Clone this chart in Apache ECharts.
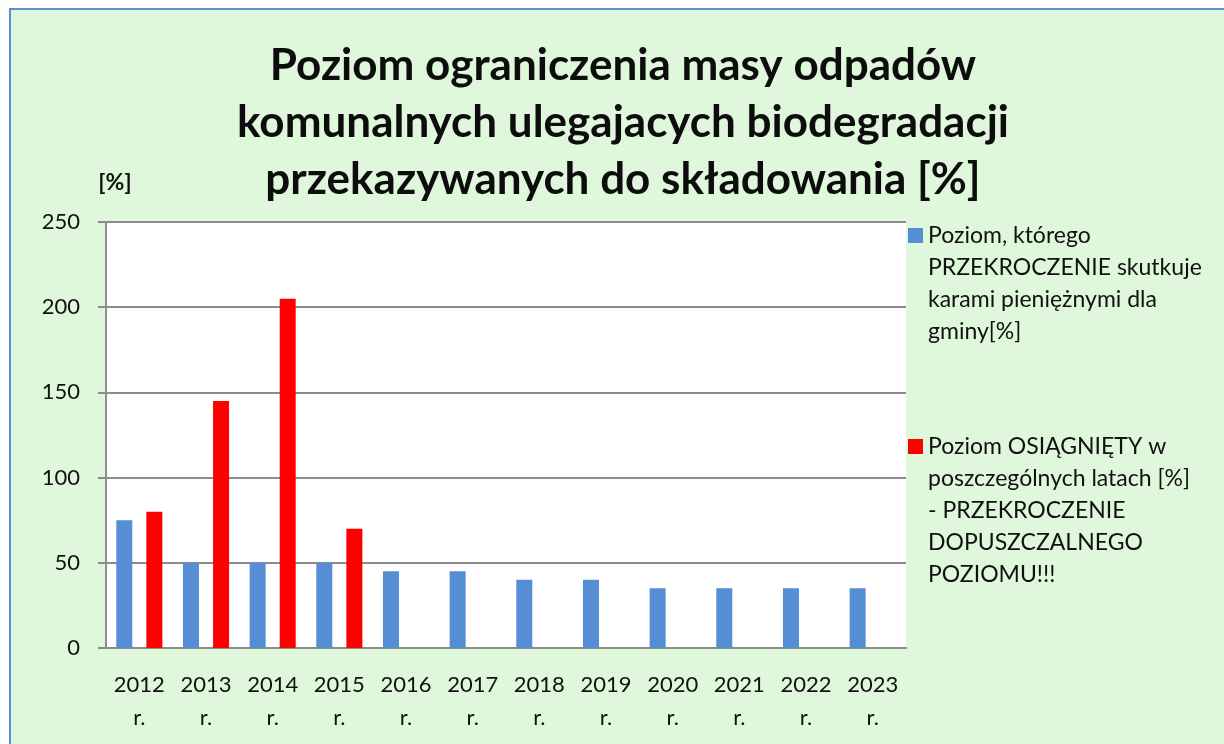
<!DOCTYPE html>
<html lang="pl">

<head>
	<meta charset="UTF-8" />
	<title>Poziom ograniczenia masy odpadów</title>
	<script src="https://cdn.jsdelivr.net/npm/echarts@6/dist/echarts.min.js"></script>
	<style type="text/css">
		html,
		body {
			margin: 0;
			padding: 0;
			background-color: #ffffff;
		}

		#chart {
			width: 1224px;
			height: 744px;
		}
	</style>
</head>

<body>
	<div id="chart"></div>

	<script>
		//--------------------------- 資料 ---------------------------//

		const years = ['2012\nr.', '2013\nr.', '2014\nr.', '2015\nr.', '2016\nr.', '2017\nr.',
			'2018\nr.', '2019\nr.', '2020\nr.', '2021\nr.', '2022\nr.', '2023\nr.'];

		// Poziom, którego przekroczenie skutkuje karami
		const limitValues = [75, 50, 50, 50, 45, 45, 40, 40, 35, 35, 35, 35];

		// Poziom osiągnięty (dane tylko dla 2012-2015)
		const achievedValues = [80, 145, 205, 70, null, null, null, null, null, null, null, null];

		const limitName = 'Poziom, którego\nPRZEKROCZENIE skutkuje\nkarami pieniężnymi dla\ngminy[%]';
		const achievedName = 'Poziom OSIĄGNIĘTY w\nposzczególnych latach [%]\n- PRZEKROCZENIE\nDOPUSZCZALNEGO\nPOZIOMU!!!';

		//--------------------------- 圖表 ---------------------------//

		const font = 'Lato, "Open Sans", sans-serif';
		const lineH = 32;

		// tekst legendy zaczyna się na wysokości kwadratu: puste linie przed nazwą
		function legendText(name) {
			const n = name.split('\n').length;
			return '\n'.repeat(n - 1) + name;
		}

		var chart = echarts.init(document.getElementById('chart'), null, { renderer: 'canvas' });

		chart.setOption({
			backgroundColor: '#ffffff',
			animation: false,
			graphic: [{
				type: 'rect',
				z: -10,
				shape: { x: 10, y: 9, width: 1300, height: 800 },
				style: { fill: '#dff7db', stroke: '#5b8fd0', lineWidth: 2 }
			}],
			title: {
				text: 'Poziom ograniczenia masy odpadów\nkomunalnych ulegajacych biodegradacji\nprzekazywanych do składowania [%]',
				left: 623,
				top: 37,
				padding: 0,
				textAlign: 'center',
				textStyle: {
					fontFamily: font,
					fontWeight: 'bold',
					fontSize: 44,
					lineHeight: 57,
					color: '#0d0d0d'
				}
			},
			legend: [{
				orient: 'vertical',
				left: 908,
				top: 228 - 104.5,
				padding: 0,
				itemWidth: 15,
				itemHeight: 15,
				icon: 'rect',
				data: [limitName],
				formatter: legendText,
				textStyle: {
					fontFamily: font,
					fontSize: 23,
					lineHeight: lineH,
					color: '#111111'
				}
			}, {
				orient: 'vertical',
				left: 908,
				top: 439 - 136.5,
				padding: 0,
				itemWidth: 15,
				itemHeight: 15,
				icon: 'rect',
				data: [achievedName],
				formatter: legendText,
				textStyle: {
					fontFamily: font,
					fontSize: 23,
					lineHeight: lineH,
					color: '#111111'
				}
			}],
			grid: {
				left: 106,
				right: 318,
				top: 222,
				bottom: 96,
				show: true,
				backgroundColor: '#ffffff',
				borderWidth: 0
			},
			xAxis: {
				type: 'category',
				data: years,
				axisLine: { lineStyle: { color: '#8c8c8c', width: 2 } },
				axisTick: { show: false },
				axisLabel: {
					fontFamily: font,
					fontSize: 22,
					lineHeight: 33,
					color: '#111111',
					margin: 20,
					interval: 0
				}
			},
			yAxis: {
				type: 'value',
				min: 0,
				max: 250,
				interval: 50,
				name: '[%]',
				nameLocation: 'end',
				nameGap: 39,
				nameTextStyle: {
					fontFamily: font,
					fontWeight: 'bold',
					fontSize: 23,
					color: '#111111',
					align: 'center',
					verticalAlign: 'middle',
					padding: [0, 0, 0, 18]
				},
				axisLine: { show: true, lineStyle: { color: '#8c8c8c', width: 2 } },
				axisTick: { show: true, length: 8, lineStyle: { color: '#8c8c8c', width: 2 } },
				splitLine: { lineStyle: { color: '#8c8c8c', width: 2 } },
				axisLabel: {
					fontFamily: font,
					fontSize: 22,
					color: '#111111',
					margin: 26
				}
			},
			series: [{
				name: limitName,
				type: 'bar',
				data: limitValues,
				barWidth: 16,
				barGap: '88%',
				itemStyle: { color: '#558ed5' }
			}, {
				name: achievedName,
				type: 'bar',
				data: achievedValues,
				barWidth: 16,
				itemStyle: { color: '#ff0000' }
			}]
		});
	</script>
</body>

</html>
